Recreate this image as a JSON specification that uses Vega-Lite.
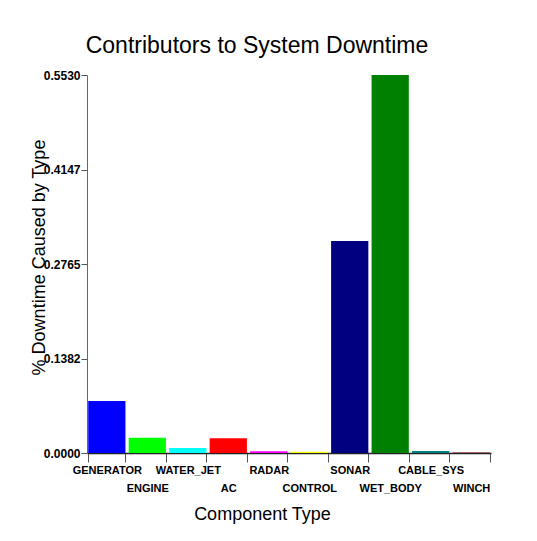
{
  "$schema": "https://vega.github.io/schema/vega-lite/v6.json",
  "autosize": {"type": "none"},
  "padding": {"left": 87, "top": 75, "right": 46, "bottom": 88},
  "width": 404,
  "height": 378,
  "background": "white",
  "title": {
    "text": "Contributors to System Downtime",
    "font": "Liberation Sans",
    "fontSize": 23,
    "fontWeight": "normal",
    "color": "black",
    "anchor": "middle",
    "frame": "group",
    "dx": -32,
    "dy": 23,
    "baseline": "alphabetic",
    "offset": 16
  },
  "config": {
    "view": {"stroke": null},
    "font": "Liberation Sans"
  },
  "data": {
    "values": [
      {"component": "GENERATOR", "downtime": 0.076},
      {"component": "ENGINE", "downtime": 0.0224},
      {"component": "WATER_JET", "downtime": 0.0073},
      {"component": "AC", "downtime": 0.0215},
      {"component": "RADAR", "downtime": 0.0025},
      {"component": "CONTROL", "downtime": 0.002},
      {"component": "SONAR", "downtime": 0.31},
      {"component": "WET_BODY", "downtime": 0.553},
      {"component": "CABLE_SYS", "downtime": 0.003},
      {"component": "WINCH", "downtime": 0.0008}
    ]
  },
  "mark": {"type": "bar"},
  "encoding": {
    "x": {
      "field": "component",
      "type": "nominal",
      "sort": null,
      "scale": {"paddingInner": 0.08, "paddingOuter": 0.03},
      "axis": {
        "title": "Component Type",
        "titleFont": "Liberation Sans",
        "titleFontSize": 18,
        "titleFontWeight": "normal",
        "titleColor": "black",
        "titleX": 175,
        "titleY": 66,
        "titleAlign": "center",
        "titleBaseline": "alphabetic",
        "labelAngle": 0,
        "labelFont": "Liberation Sans",
        "labelFontSize": 11,
        "labelFontWeight": "bold",
        "labelColor": "black",
        "labelPadding": 2,
        "labelLineHeight": 18,
        "labelBaseline": "top",
        "labelOverlap": false,
        "labelExpr": "indexof(['ENGINE','AC','CONTROL','WET_BODY','WINCH'], datum.value) >= 0 ? ['', datum.label] : datum.label",
        "tickBand": "extent",
        "tickSize": 9,
        "tickColor": "#555555",
        "domainColor": "#222222",
        "domainWidth": 1.5
      }
    },
    "y": {
      "field": "downtime",
      "type": "quantitative",
      "scale": {"domain": [0, 0.553], "nice": false},
      "axis": {
        "title": "% Downtime Caused by Type",
        "titleFont": "Liberation Sans",
        "titleFontSize": 18,
        "titleFontWeight": "normal",
        "titleColor": "black",
        "titleAngle": 270,
        "titleX": -43,
        "titleY": 182,
        "titleAlign": "center",
        "titleBaseline": "alphabetic",
        "values": [0, 0.1382, 0.2765, 0.4147, 0.553],
        "format": ".4f",
        "labelFont": "Liberation Sans",
        "labelFontSize": 12,
        "labelFontWeight": "bold",
        "labelColor": "black",
        "labelPadding": 1,
        "tickSize": 6,
        "tickColor": "#555555",
        "domainColor": "#666666",
        "grid": false
      }
    },
    "color": {
      "field": "component",
      "type": "nominal",
      "legend": null,
      "scale": {
        "domain": ["GENERATOR", "ENGINE", "WATER_JET", "AC", "RADAR", "CONTROL", "SONAR", "WET_BODY", "CABLE_SYS", "WINCH"],
        "range": ["#0000FF", "#00FF00", "#00FFFF", "#FF0000", "#FF00FF", "#FFFF00", "#000080", "#008000", "#008080", "#800000"]
      }
    }
  }
}
